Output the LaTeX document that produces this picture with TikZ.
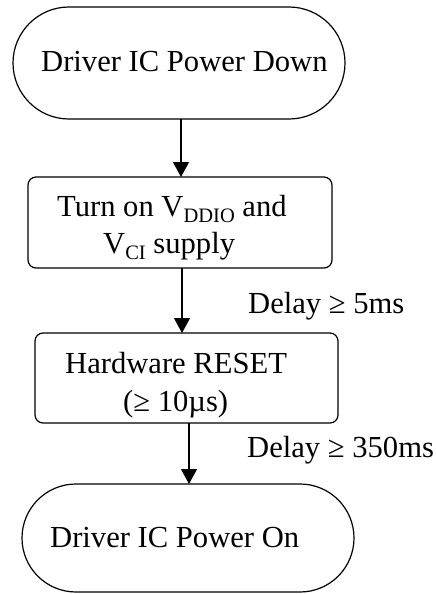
\documentclass[tikz,border=0pt]{standalone}
\usepackage{fontspec}
\setmainfont{Liberation Serif}
\usetikzlibrary{shapes.misc,arrows.meta}
\begin{document}
\begin{tikzpicture}[x=1pt,y=-1pt,
  term/.style={draw, line width=1.2pt, rounded rectangle, minimum width=332pt, inner sep=0pt, outer sep=0pt},
  proc/.style={draw, line width=1.2pt, rectangle, rounded corners=8pt, inner sep=0pt, outer sep=0pt},
  txt/.style={anchor=base west, inner sep=0pt, font=\fontsize{30.6}{36}\selectfont},
  arr/.style={line width=1.2pt, -{Triangle[width=16pt,length=15pt]}}]
\newcommand{\sbs}[1]{\raisebox{-6pt}{\fontsize{20.5}{20}\selectfont #1}}
\useasboundingbox (0,0) rectangle (436,594);
% shapes
\node[term, minimum height=112pt] (down) at (179,63) {};
\node[proc, minimum width=304pt, minimum height=91pt] (supply) at (180,222.5) {};
\node[proc, minimum width=303pt, minimum height=90pt] (reset) at (186.5,378) {};
\node[term, minimum height=108pt] (on) at (188,538) {};
% texts
\node[txt] (t1) at (41,71) {Driver IC Power Down};
\node[txt] (t2) at (57,216) {Turn on V\sbs{DDIO} and};
\node[txt] (t3) at (103,253) {V\sbs{CI} supply};
\node[txt] (t4) at (65,373) {Hardware RESET};
\node[txt] (t5) at (123,411) {(≥ 10µs)};
\node[txt] (t6) at (50,547) {Driver IC Power On};
\node[txt] (d1) at (248,313) {Delay ≥ 5ms};
\node[txt] (d2) at (247,457) {Delay ≥ 350ms};
% connectors
\draw[arr] ([xshift=2pt]down.south) -- ([xshift=2pt]down.south |- supply.north);
\draw[arr] ([xshift=2pt]supply.south) -- ([xshift=2pt]supply.south |- reset.north);
\draw[arr] ([xshift=2.5pt]reset.south) -- ([xshift=2.5pt]reset.south |- on.north);
\end{tikzpicture}
\end{document}
